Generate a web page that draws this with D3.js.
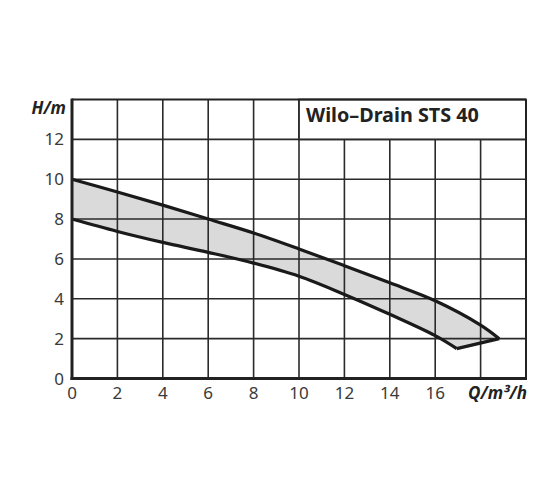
<!DOCTYPE html>
<html><head><meta charset="utf-8">
<script src="https://cdn.jsdelivr.net/npm/d3@7"></script>
<style>body{margin:0;background:#fff}svg{display:block}</style>
</head><body>
<svg id="c" width="560" height="504"></svg>
<script>
const title = "Wilo\u2013Drain STS 40";
const xTicks = [0,2,4,6,8,10,12,14,16];
const yTicks = [0,2,4,6,8,10,12];
const upperQ = [0,2,4,6,8,10,12,14,16,18,18.82];
const upperH = [10,9.36,8.7,8.0,7.3,6.5,5.66,4.8,3.9,2.68,2.0];
const lowerQ = [0,2,4,6,8,10,12,14,16,16.95];
const lowerH = [8,7.38,6.83,6.33,5.79,5.13,4.22,3.22,2.15,1.5];

const svg = d3.select("#c");
const x = d3.scaleLinear().domain([0,20]).range([72,526]);
const y = d3.scaleLinear().domain([0,14]).range([378.5,99.5]);
const font = "'Noto Sans', 'Open Sans', sans-serif";

const up = upperQ.map((q,i)=>[q,upperH[i]]);
const lo = lowerQ.map((q,i)=>[q,lowerH[i]]);
const line = d3.line().x(d=>x(d[0])).y(d=>y(d[1])).curve(d3.curveCatmullRom.alpha(0.5));
const lineLin = d3.line().x(d=>x(d[0])).y(d=>y(d[1]));

// band fill (sampled from the curves)
const upNode = svg.append("path").attr("d",line(up)).attr("fill","none").node();
const loNode = svg.append("path").attr("d",line(lo)).attr("fill","none").node();
const sample = n=>{const L=n.getTotalLength();return d3.range(0,201).map(i=>{const p=n.getPointAtLength(L*i/200);return [p.x,p.y];});};
const pts = sample(upNode).concat(sample(loNode).reverse());
upNode.remove(); loNode.remove();
svg.append("path").attr("d","M"+pts.map(p=>p.join(",")).join("L")+"Z").attr("fill","#dadada").attr("stroke","none");

// grid
const grid = svg.append("g").attr("stroke","#2a2a2a").attr("stroke-width",1.6);
d3.range(2,20,2).forEach(v=>grid.append("line").attr("x1",x(v)).attr("x2",x(v)).attr("y1",y(0)).attr("y2",y(14)));
d3.range(2,14,2).forEach(v=>grid.append("line").attr("x1",x(0)).attr("x2",x(20)).attr("y1",y(v)).attr("y2",y(v)));

// curves
const curves = svg.append("g").attr("fill","none").attr("stroke","#1a1a1a").attr("stroke-width",3.2).attr("stroke-linejoin","round");
curves.append("path").attr("d",line(up));
curves.append("path").attr("d",line(lo));
curves.append("path").attr("d",lineLin([lo[lo.length-1],up[up.length-1]]));

// title box
svg.append("rect").attr("x",x(10)).attr("y",y(14)).attr("width",x(20)-x(10)).attr("height",y(12)-y(14))
  .attr("fill","#fff").attr("stroke","#2a2a2a").attr("stroke-width",1.8);
svg.append("text").attr("x",x(10)+7).attr("y",121.5).attr("font-family",font).attr("font-weight","bold")
  .attr("font-size",19.8).attr("fill","#222").text(title);

// frame
svg.append("line").attr("x1",x(0)).attr("x2",x(20)).attr("y1",y(14)).attr("y2",y(14)).attr("stroke","#222").attr("stroke-width",2);
svg.append("line").attr("x1",x(20)).attr("x2",x(20)).attr("y1",y(14)).attr("y2",y(0)).attr("stroke","#222").attr("stroke-width",2);
svg.append("line").attr("x1",x(0)).attr("x2",x(0)).attr("y1",y(14)-1).attr("y2",y(0)+1.5).attr("stroke","#222").attr("stroke-width",3);
svg.append("line").attr("x1",x(0)-1.5).attr("x2",x(20)+1).attr("y1",y(0)).attr("y2",y(0)).attr("stroke","#222").attr("stroke-width",3);

// tick labels
svg.append("g").selectAll("text").data(xTicks).join("text")
  .attr("x",d=>x(d)).attr("y",398.5).attr("text-anchor","middle").attr("font-family",font)
  .attr("font-size",17).attr("fill","#3a3a3a").text(d=>d);
svg.append("g").selectAll("text").data(yTicks).join("text")
  .attr("x",64).attr("y",d=>y(d)+6).attr("text-anchor","end").attr("font-family",font)
  .attr("font-size",17).attr("fill","#3a3a3a").text(d=>d);

// axis names
svg.append("text").attr("x",66).attr("y",114).attr("text-anchor","end").attr("font-family",font)
  .attr("font-weight","bold").attr("font-style","italic").attr("font-size",17).attr("fill","#222").text("H/m");
svg.append("text").attr("x",527).attr("y",398.5).attr("text-anchor","end").attr("font-family",font)
  .attr("font-weight","bold").attr("font-style","italic").attr("font-size",17).attr("fill","#222").text("Q/m³/h");
</script>
</body></html>
